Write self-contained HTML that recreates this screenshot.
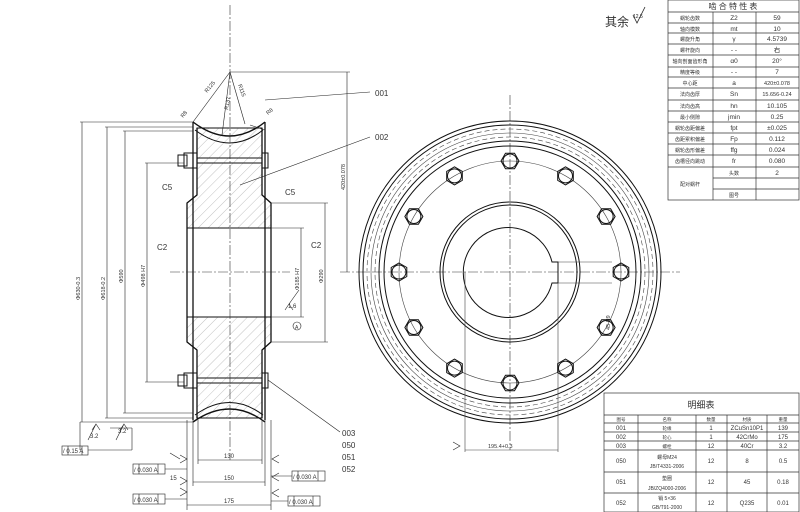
<!DOCTYPE html>
<html><head><meta charset="utf-8"><style>
html,body{margin:0;padding:0;background:#fff;}
svg{display:block;font-family:"Liberation Sans","Noto Sans CJK SC",sans-serif;}
</style></head><body>
<svg width="800" height="512" viewBox="0 0 800 512" xmlns="http://www.w3.org/2000/svg">
<defs>
<pattern id="h" width="7" height="7" patternUnits="userSpaceOnUse" patternTransform="rotate(45)">
<line x1="0" y1="0" x2="0" y2="7" stroke="#999" stroke-width="0.6"/></pattern>
</defs>
<rect width="800" height="512" fill="#fff"/>
<g stroke="#111" fill="none" stroke-width="1">
<path d="M197,128 L262,128 L262,195 L271,203 L271,228 L187,228 L187,203 L197,195 Z" fill="url(#h)"/>
<path d="M187,317 L271,317 L271,342 L262,350 L262,418 L197,418 L197,350 L187,342 Z" fill="url(#h)"/>
<path d="M193,122 L193,420 M265,122 L265,420" stroke-width="1.3"/>
<path d="M197,128 L197,195 L187,203 L187,342 L197,350 L197,418" stroke-width="1.3"/>
<path d="M262,128 L262,195 L271,203 L271,342 L262,350 L262,418" stroke-width="1.3"/>
<path d="M193,122 Q230,150 265,122" stroke-width="1.4"/>
<path d="M195,130 Q230,156 263,130"/>
<path d="M193,422 Q230,396 265,422" stroke-width="1.4"/>
<path d="M195,415 Q230,390 263,415"/>
<line x1="187" y1="228" x2="271" y2="228"/>
<line x1="187" y1="317" x2="271" y2="317"/>
<rect x="178" y="155" width="9" height="11"/><rect x="184" y="153" width="13" height="15"/>
<line x1="197" y1="158" x2="262" y2="158"/><line x1="197" y1="163" x2="262" y2="163"/>
<rect x="262" y="153" width="6" height="15"/>
<rect x="178" y="375" width="9" height="11"/><rect x="184" y="373" width="13" height="15"/>
<line x1="197" y1="378" x2="262" y2="378"/><line x1="197" y1="383" x2="262" y2="383"/>
<rect x="262" y="373" width="6" height="15"/>
</g>
<g stroke="#333" stroke-width="0.6" stroke-dasharray="10,2,2,2" fill="none">
<line x1="230" y1="5" x2="230" y2="460"/>
<line x1="170" y1="272" x2="290" y2="272"/>
<line x1="340" y1="272" x2="680" y2="272"/>
<line x1="510" y1="95" x2="510" y2="450"/>
</g>
<g stroke="#222" stroke-width="0.6" fill="none">
<line x1="230" y1="72" x2="193" y2="122"/><line x1="230" y1="72" x2="222" y2="135"/><line x1="230" y1="72" x2="245" y2="124"/>
<line x1="230" y1="72" x2="350" y2="72"/>
<line x1="347" y1="72" x2="347" y2="272"/>
<line x1="80" y1="122" x2="193" y2="122"/><line x1="80" y1="422" x2="193" y2="422"/>
<line x1="82" y1="122" x2="82" y2="422"/>
<line x1="105" y1="127" x2="193" y2="127"/><line x1="105" y1="418" x2="193" y2="418"/>
<line x1="107" y1="127" x2="107" y2="418"/>
<line x1="123" y1="131" x2="193" y2="131"/><line x1="123" y1="413" x2="193" y2="413"/>
<line x1="125" y1="131" x2="125" y2="413"/>
<line x1="145" y1="163" x2="184" y2="163"/><line x1="145" y1="382" x2="184" y2="382"/>
<line x1="147" y1="163" x2="147" y2="382"/>
<line x1="271" y1="203" x2="328" y2="203"/><line x1="271" y1="342" x2="328" y2="342"/>
<line x1="325" y1="203" x2="325" y2="342"/>
<line x1="271" y1="228" x2="304" y2="228"/><line x1="271" y1="317" x2="304" y2="317"/>
<line x1="301" y1="228" x2="301" y2="317"/>
<line x1="265" y1="100" x2="370" y2="92"/><line x1="250" y1="125" x2="265" y2="130"/>
<line x1="240" y1="185" x2="370" y2="137"/>
<line x1="268" y1="380" x2="340" y2="432"/>
<line x1="187" y1="420" x2="187" y2="510"/><line x1="271" y1="420" x2="271" y2="510"/>
<line x1="193" y1="420" x2="193" y2="486"/><line x1="265" y1="420" x2="265" y2="486"/>
<line x1="198" y1="420" x2="198" y2="464"/><line x1="262" y1="420" x2="262" y2="464"/>
<line x1="198" y1="460" x2="262" y2="460"/><line x1="193" y1="482" x2="265" y2="482"/><line x1="187" y1="505" x2="271" y2="505"/>
<line x1="80" y1="422" x2="80" y2="450"/><line x1="88" y1="450" x2="132" y2="450"/>
<line x1="132" y1="428" x2="132" y2="450"/>
<line x1="110" y1="428" x2="132" y2="428"/>
<line x1="165" y1="469" x2="187" y2="469"/><line x1="165" y1="499" x2="187" y2="499"/>
<line x1="271" y1="476" x2="292" y2="476"/><line x1="271" y1="501" x2="288" y2="501"/>
</g>
<g stroke="#222" stroke-width="0.6" fill="none">
<path d="M92,430 l4,-6 l4,6 M96,424 l-8,16"/><path d="M120,430 l4,-6 l4,6 M124,424 l-8,16"/>
<path d="M180,463 l7,-4 l-7,-4 M180,459 l-10,-6"/><path d="M180,485 l7,-4 l-7,-4"/><path d="M180,496 l7,-4 l-7,-4"/>
<path d="M279,463 l-7,-4 l7,-4"/><path d="M279,481 l-7,-4 l7,-4"/><path d="M279,497 l-7,-4 l7,-4"/>
<path d="M285,310 l4,-6 l4,6 M289,304 l10,-14"/>
<path d="M453,450 l7,-4 l-7,-4"/>
<circle cx="297" cy="326" r="4"/>
</g>
<g stroke="#222" stroke-width="0.6" fill="none">
<rect x="62" y="446" width="26" height="9"/><line x1="68" y1="446" x2="68" y2="455"/><line x1="82" y1="446" x2="82" y2="455"/>
<rect x="133" y="464" width="32" height="10"/><line x1="139" y1="464" x2="139" y2="474"/><line x1="158" y1="464" x2="158" y2="474"/>
<rect x="133" y="494" width="32" height="10"/><line x1="139" y1="494" x2="139" y2="504"/><line x1="158" y1="494" x2="158" y2="504"/>
<rect x="292" y="471" width="33" height="10"/><line x1="298" y1="471" x2="298" y2="481"/><line x1="318" y1="471" x2="318" y2="481"/>
<rect x="288" y="496" width="32" height="10"/><line x1="294" y1="496" x2="294" y2="506"/><line x1="313" y1="496" x2="313" y2="506"/>
</g>
<g font-size="6" fill="#333">
<text x="63" y="453">/ 0.15 A</text>
<text x="134" y="472">/ 0.030 A</text><text x="134" y="502">/ 0.030 A</text>
<text x="293" y="479">/ 0.030 A</text><text x="289" y="504">/ 0.030 A</text>
<text x="90" y="438">3.2</text><text x="118" y="433">3.2</text>
<text x="224" y="458">130</text><text x="224" y="480">150</text><text x="224" y="503">175</text>
<text x="170" y="480">15</text>
<text x="288" y="308">1.6</text><text x="295" y="329" font-size="5">A</text>
</g>
<g font-size="8" fill="#333">
<text x="375" y="96">001</text><text x="375" y="140">002</text>
<text x="342" y="436">003</text><text x="342" y="448">050</text><text x="342" y="460">051</text><text x="342" y="472">052</text>
<text x="162" y="190">C5</text><text x="285" y="195">C5</text>
<text x="157" y="250">C2</text><text x="311" y="248">C2</text>
</g>
<g font-size="5.5" fill="#333">
<text transform="translate(80,300) rotate(-90)">Φ630-0.3</text>
<text transform="translate(105,300) rotate(-90)">Φ618-0.2</text>
<text transform="translate(123,283) rotate(-90)">Φ590</text>
<text transform="translate(145,287) rotate(-90)">Φ498 H7</text>
<text transform="translate(299,290) rotate(-90)">Φ185 H7</text>
<text transform="translate(323,283) rotate(-90)">Φ290</text>
<text transform="translate(345,190) rotate(-90)">420±0.078</text>
<text transform="translate(610,330) rotate(-90)">45 H9</text>
<text x="488" y="448">195.4+0.3</text>
<text transform="translate(207,93) rotate(-50)">R125</text>
<text transform="translate(228,110) rotate(-80)">R137</text>
<text transform="translate(238,85) rotate(70)">R115</text>
<text transform="translate(183,118) rotate(-50)">R8</text>
<text transform="translate(268,115) rotate(-40)">R8</text>
</g>
<g stroke="#111" fill="none" stroke-width="1">
<circle cx="510" cy="272" r="151"/>
<circle cx="510" cy="272" r="147"/>
<circle cx="510" cy="272" r="131"/>
<circle cx="510" cy="272" r="126"/>
<circle cx="510" cy="272" r="70"/>
<circle cx="510" cy="272" r="67"/>
<path d="M552,262 A45,45 0 1,0 552,283 L558,283 L558,262 Z"/>
</g>
<g stroke="#444" fill="none" stroke-width="0.6">
<circle cx="510" cy="272" r="143" stroke-dasharray="5,3"/>
<circle cx="510" cy="272" r="139"/>
<circle cx="510" cy="272" r="135" stroke-dasharray="5,3"/>
<circle cx="510" cy="272" r="111"/>
<line x1="558" y1="262" x2="612" y2="262"/><line x1="558" y1="283" x2="612" y2="283"/>
<line x1="465" y1="272" x2="465" y2="452"/><line x1="558" y1="283" x2="558" y2="452"/>
<line x1="465" y1="450" x2="558" y2="450"/>
</g>
<g stroke="#111" fill="none" stroke-width="1">
<g id="b"><polygon points="519,161 514.5,168.8 505.5,168.8 501,161 505.5,153.2 514.5,153.2"/><circle cx="510" cy="161" r="7"/></g>
<use href="#b" transform="rotate(30 510 272)"/><use href="#b" transform="rotate(60 510 272)"/>
<use href="#b" transform="rotate(90 510 272)"/><use href="#b" transform="rotate(120 510 272)"/>
<use href="#b" transform="rotate(150 510 272)"/><use href="#b" transform="rotate(180 510 272)"/>
<use href="#b" transform="rotate(210 510 272)"/><use href="#b" transform="rotate(240 510 272)"/>
<use href="#b" transform="rotate(270 510 272)"/><use href="#b" transform="rotate(300 510 272)"/>
<use href="#b" transform="rotate(330 510 272)"/>
</g>
<text x="605" y="26" font-size="12" fill="#333">其余</text>
<path d="M633,15 l4,8 l8,-16" stroke="#222" fill="none" stroke-width="0.8"/>
<text x="633" y="18" font-size="5" fill="#222">12.5</text>
<g stroke="#333" stroke-width="0.7" fill="none">
<rect x="668" y="0" width="131" height="200"/>
<line x1="668" y1="12" x2="799" y2="12"/>
<line x1="713" y1="12" x2="713" y2="200"/><line x1="756" y1="12" x2="756" y2="200"/>
<path d="M668,23H799M668,33H799M668,44H799M668,55H799M668,67H799M668,77H799M668,88H799M668,100H799M668,111H799M668,122H799M668,133H799M668,144H799M668,155H799M668,167H799M713,178H799M713,189H799"/>
</g>
<g font-size="6.5" fill="#333" text-anchor="middle">
<text x="733" y="9" font-size="8">啮 合 特 性 表</text>
<text x="690" y="20" font-size="5">蜗轮齿数</text><text x="734" y="20">Z2</text><text x="777" y="20">59</text>
<text x="690" y="31" font-size="5">轴向模数</text><text x="734" y="31">mt</text><text x="777" y="31">10</text>
<text x="690" y="41" font-size="5">螺旋升角</text><text x="734" y="41">γ</text><text x="777" y="41">4.5739</text>
<text x="690" y="52" font-size="5">螺杆旋向</text><text x="734" y="52">- -</text><text x="777" y="52">右</text>
<text x="690" y="63" font-size="5">轴向剖面齿形角</text><text x="734" y="63">α0</text><text x="777" y="63">20°</text>
<text x="690" y="74" font-size="5">精度等级</text><text x="734" y="74">- -</text><text x="777" y="74">7</text>
<text x="690" y="85" font-size="5">中心距</text><text x="734" y="85">a</text><text x="777" y="85" font-size="5.5">420±0.078</text>
<text x="690" y="96" font-size="5">法向齿厚</text><text x="734" y="96">Sn</text><text x="777" y="96" font-size="5.5">15.656-0.24</text>
<text x="690" y="108" font-size="5">法向齿高</text><text x="734" y="108">hn</text><text x="777" y="108">10.105</text>
<text x="690" y="119" font-size="5">最小侧隙</text><text x="734" y="119">jmin</text><text x="777" y="119">0.25</text>
<text x="690" y="130" font-size="5">蜗轮齿距偏差</text><text x="734" y="130">fpt</text><text x="777" y="130">±0.025</text>
<text x="690" y="141" font-size="5">齿距累积偏差</text><text x="734" y="141">Fp</text><text x="777" y="141">0.112</text>
<text x="690" y="152" font-size="5">蜗轮齿形偏差</text><text x="734" y="152">ffg</text><text x="777" y="152">0.024</text>
<text x="690" y="163" font-size="5">齿槽径向跳动</text><text x="734" y="163">fr</text><text x="777" y="163">0.080</text>
<text x="690" y="186" font-size="5">配对蜗杆</text><text x="734" y="175" font-size="5">头数</text><text x="777" y="175">2</text>
<text x="734" y="197" font-size="5">图号</text>
</g>
<g stroke="#333" stroke-width="0.7" fill="none">
<rect x="604" y="393" width="195" height="119"/>
<path d="M604,415H799M604,423H799M604,432H799M604,441H799M604,450H799M604,472H799M604,493H799"/>
<path d="M638,415V512M696,415V512M727,415V512M767,415V512"/>
</g>
<g font-size="6" fill="#333" text-anchor="middle">
<text x="701" y="408" font-size="9">明细表</text>
<text x="621" y="421" font-size="4.5">图号</text><text x="667" y="421" font-size="4.5">名称</text><text x="711" y="421" font-size="4.5">数量</text><text x="747" y="421" font-size="4.5">材质</text><text x="783" y="421" font-size="4.5">重量</text>
<text x="621" y="430">001</text><text x="667" y="430" font-size="4.5">轮缘</text><text x="711" y="430">1</text><text x="747" y="430">ZCuSn10P1</text><text x="783" y="430">139</text>
<text x="621" y="439">002</text><text x="667" y="439" font-size="4.5">轮心</text><text x="711" y="439">1</text><text x="747" y="439">42CrMo</text><text x="783" y="439">175</text>
<text x="621" y="448">003</text><text x="667" y="448" font-size="4.5">螺栓</text><text x="711" y="448">12</text><text x="747" y="448">40Cr</text><text x="783" y="448">3.2</text>
<text x="621" y="463">050</text><text x="667" y="459" font-size="5">螺母M24</text><text x="667" y="468" font-size="5">JB/T4331-2006</text><text x="711" y="463">12</text><text x="747" y="463">8</text><text x="783" y="463">0.5</text>
<text x="621" y="484">051</text><text x="667" y="480" font-size="5">垫圈</text><text x="667" y="490" font-size="5">JB/ZQ4000-2006</text><text x="711" y="484">12</text><text x="747" y="484">45</text><text x="783" y="484">0.18</text>
<text x="621" y="505">052</text><text x="667" y="500" font-size="5">销 5×36</text><text x="667" y="509" font-size="5">GB/T91-2000</text><text x="711" y="505">12</text><text x="747" y="505">Q235</text><text x="783" y="505">0.01</text>
</g>
</svg>
</body></html>
